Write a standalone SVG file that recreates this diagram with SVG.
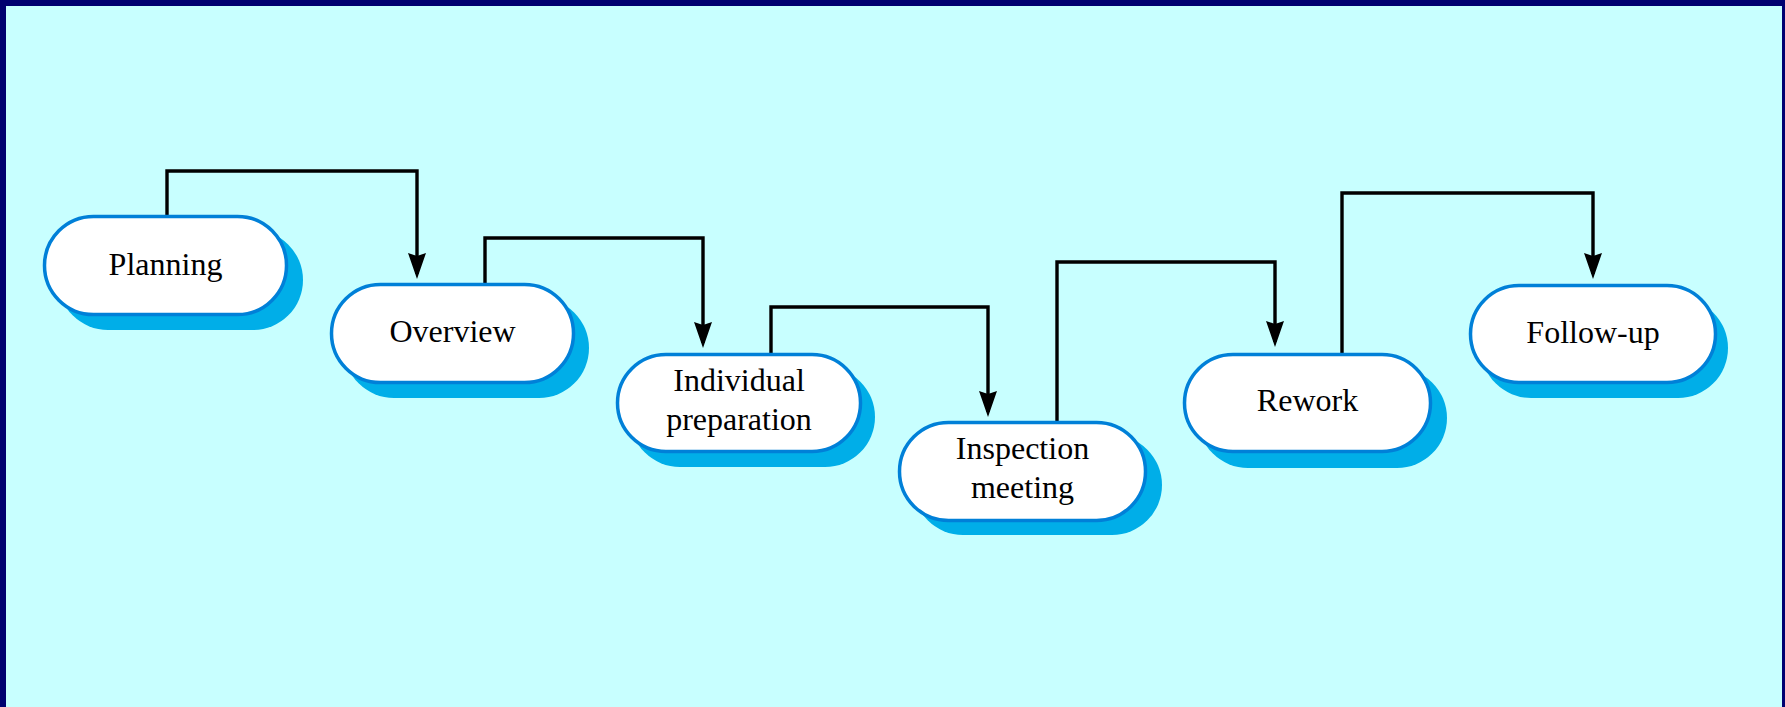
<svg xmlns="http://www.w3.org/2000/svg" width="1785" height="707" viewBox="0 0 1785 707">
  <style>
    .pill { fill: #ffffff; stroke: #0080d8; stroke-width: 3.5; }
    .shadow { fill: #00aee8; }
    .label { font-family: "Liberation Serif", "Times New Roman", serif; font-size: 32px; fill: #000000; text-anchor: middle; }
    .conn { fill: none; stroke: #000000; stroke-width: 3.4; stroke-linejoin: miter; }
  </style>
  <defs>
    <marker id="arrow" markerUnits="userSpaceOnUse" markerWidth="30" markerHeight="22" viewBox="0 -11 30 22" refX="21" refY="0" orient="auto">
      <path d="M0,-9 L26,0 L0,9 L3,0 Z" fill="#000000"/>
    </marker>
  </defs>
  <rect x="0" y="0" width="1785" height="707" fill="#000070"/>
  <rect x="6" y="6" width="1776" height="701" fill="#c8ffff"/>

  <g id="connectors">
    <path class="conn" marker-end="url(#arrow)" d="M167,215 V171 H417 V274"/>
    <path class="conn" marker-end="url(#arrow)" d="M485,283 V238 H703 V343"/>
    <path class="conn" marker-end="url(#arrow)" d="M771,353 V307 H988 V412"/>
    <path class="conn" marker-end="url(#arrow)" d="M1057,421 V262 H1275 V342"/>
    <path class="conn" marker-end="url(#arrow)" d="M1342,353 V193 H1593 V274"/>
  </g>

  <g id="planning">
    <rect class="shadow" x="58" y="230" width="245" height="100" rx="50"/>
    <rect class="pill" x="44.5" y="216.5" width="242" height="98" rx="49"/>
    <text class="label" x="165.5" y="274.5">Planning</text>
  </g>
  <g id="overview">
    <rect class="shadow" x="344" y="298" width="245" height="100" rx="50"/>
    <rect class="pill" x="331.5" y="284.5" width="242" height="98" rx="49"/>
    <text class="label" x="452.5" y="342">Overview</text>
  </g>
  <g id="individual-preparation">
    <rect class="shadow" x="630" y="367" width="245" height="100" rx="50"/>
    <rect class="pill" x="617.5" y="354.5" width="243" height="97" rx="48.5"/>
    <text class="label" x="739" y="391">Individual</text>
    <text class="label" x="739" y="430">preparation</text>
  </g>
  <g id="inspection-meeting">
    <rect class="shadow" x="913" y="435" width="249" height="100" rx="50"/>
    <rect class="pill" x="899.5" y="422.5" width="246" height="98" rx="49"/>
    <text class="label" x="1022.5" y="458.5">Inspection</text>
    <text class="label" x="1022.5" y="498">meeting</text>
  </g>
  <g id="rework">
    <rect class="shadow" x="1198" y="368" width="249" height="100" rx="50"/>
    <rect class="pill" x="1184.5" y="354.5" width="246" height="97" rx="48.5"/>
    <text class="label" x="1307.5" y="411">Rework</text>
  </g>
  <g id="follow-up">
    <rect class="shadow" x="1481" y="298" width="247" height="100" rx="50"/>
    <rect class="pill" x="1470.5" y="285.5" width="245" height="97" rx="48.5"/>
    <text class="label" x="1593" y="342.5">Follow-up</text>
  </g>
</svg>
